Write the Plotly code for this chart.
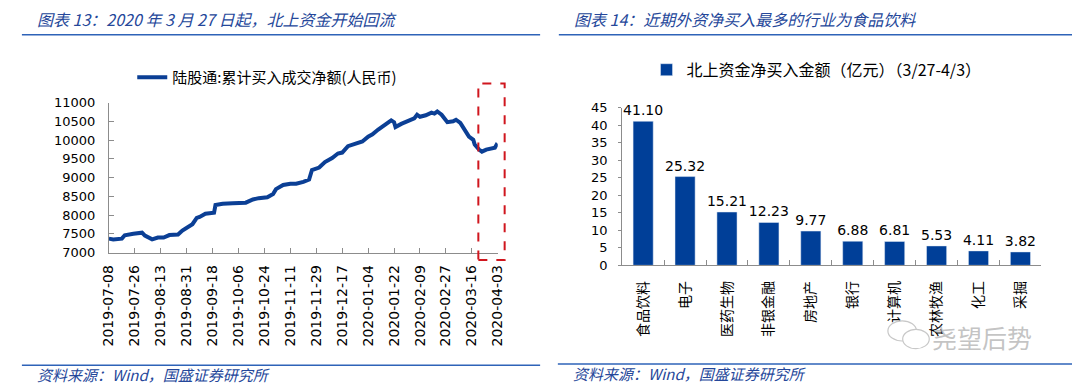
import plotly.graph_objects as go

# ---------------- data ----------------
line_dates = [
    "2019-07-08", "2019-07-11", "2019-07-17", "2019-07-19", "2019-07-25", "2019-07-31",
    "2019-08-02", "2019-08-07", "2019-08-11", "2019-08-15", "2019-08-19", "2019-08-25",
    "2019-08-28", "2019-09-01", "2019-09-04", "2019-09-07", "2019-09-09", "2019-09-13",
    "2019-09-19", "2019-09-20", "2019-09-25", "2019-10-02", "2019-10-11", "2019-10-16",
    "2019-10-20", "2019-10-26", "2019-10-30", "2019-11-01", "2019-11-06", "2019-11-11",
    "2019-11-15", "2019-11-20", "2019-11-24", "2019-11-26", "2019-12-01", "2019-12-05",
    "2019-12-10", "2019-12-14", "2019-12-17", "2019-12-21", "2019-12-25", "2019-12-31",
    "2020-01-04", "2020-01-07", "2020-01-11", "2020-01-16", "2020-01-20", "2020-01-22",
    "2020-01-23", "2020-01-27", "2020-02-02", "2020-02-05", "2020-02-07", "2020-02-09",
    "2020-02-13", "2020-02-17", "2020-02-19", "2020-02-21", "2020-02-24", "2020-02-26",
    "2020-02-28", "2020-03-03", "2020-03-05", "2020-03-08", "2020-03-10", "2020-03-12",
    "2020-03-14", "2020-03-17", "2020-03-18", "2020-03-21", "2020-03-23", "2020-03-26",
    "2020-03-30", "2020-04-01", "2020-04-02", "2020-04-03",
]
line_values = [
    7370, 7350, 7370, 7460, 7500, 7530,
    7450, 7350, 7400, 7400, 7465, 7480,
    7585, 7670, 7755, 7925, 7950, 8035,
    8060, 8265, 8300, 8315, 8330, 8415,
    8450, 8475, 8560, 8690, 8800, 8835,
    8835, 8885, 8945, 9200, 9265, 9410,
    9520, 9640, 9665, 9835, 9895, 9960,
    10090, 10150, 10280, 10405, 10525, 10475,
    10345, 10430, 10515, 10575, 10675, 10620,
    10660, 10730, 10705, 10760, 10675, 10575,
    10475, 10500, 10540, 10455, 10345, 10220,
    10090, 10005, 9880, 9745, 9690, 9745,
    9775, 9795, 9860, 9825,
]
line_name = "陆股通:累计买入成交净额(人民币)"

bar_categories = ["食品饮料", "电子", "医药生物", "非银金融", "房地产",
                  "银行", "计算机", "农林牧渔", "化工", "采掘"]
bar_values = [41.10, 25.32, 15.21, 12.23, 9.77, 6.88, 6.81, 5.53, 4.11, 3.82]
bar_name = "北上资金净买入金额（亿元）（3/27-4/3）"

title_left = "图表 13：2020 年 3 月 27 日起，北上资金开始回流"
title_right = "图表 14：近期外资净买入最多的行业为食品饮料"
source_text = "资料来源：Wind，国盛证券研究所"
watermark = "尧望后势"

# ---------------- layout helpers (screen pixel -> paper) ----------------
W, H = 1080, 391
OFF = 8  # page body margin offsets the figure by 8px
def px(x):
    return (x - OFF) / W
def py(y):
    return 1 - (y - OFF) / H

BLUE = "#0B3F95"
TITLE_BLUE = "#25479A"
RULE_BLUE = "#2E63B8"
AXIS_GREY = "#8C8C8C"
CJK = "Noto Sans CJK SC"
NUM = "DejaVu Sans"

fig = go.Figure()

fig.add_trace(go.Scatter(
    x=line_dates, y=line_values, mode="lines", name=line_name,
    line=dict(color=BLUE, width=4), xaxis="x", yaxis="y", legend="legend",
))

fig.add_trace(go.Bar(
    x=bar_categories, y=bar_values, name=bar_name,
    marker=dict(color="#003F98"), xaxis="x2", yaxis="y2", legend="legend2",
    text=[f"{v:.2f}" for v in bar_values], textposition="outside",
    constraintext="none",
    textfont=dict(family=NUM, size=14, color="#000"), cliponaxis=False,
))

DAY_MS = 86400000

fig.update_layout(
    width=W, height=H,
    margin=dict(l=0, r=0, t=0, b=0),
    paper_bgcolor="white", plot_bgcolor="white",
    bargap=0.52,
    xaxis=dict(
        domain=[px(102.3), px(497)], type="date",
        range=["2019-07-08", "2020-04-03"],
        tick0="2019-07-08", dtick=18 * DAY_MS, tickformat="%Y-%m-%d",
        tickangle=-90, ticks="inside", ticklen=5, tickcolor=AXIS_GREY,
        ticklabelstandoff=6,
        showline=True, linecolor=AXIS_GREY, linewidth=1, showgrid=False,
        zeroline=False, tickfont=dict(family=NUM, size=14, color="#000"),
        anchor="y",
    ),
    yaxis=dict(
        domain=[py(255), py(99)], range=[7000, 11000], dtick=500,
        tickformat="d",
        ticks="inside", ticklen=5, tickcolor=AXIS_GREY,
        ticklabelstandoff=10,
        showline=True, linecolor=AXIS_GREY, linewidth=1, showgrid=False,
        zeroline=False, tickfont=dict(family=NUM, size=13, color="#000"),
        anchor="x",
    ),
    xaxis2=dict(
        domain=[px(623.3), px(1048.8)], type="category",
        tickson="boundaries", ticks="inside", ticklen=5, tickcolor=AXIS_GREY,
        ticklabelstandoff=9,
        tickangle=-90, showline=True, linecolor=AXIS_GREY, linewidth=1,
        showgrid=False, zeroline=False,
        tickfont=dict(family=CJK, size=14, color="#000"), anchor="y2",
    ),
    yaxis2=dict(
        domain=[py(268.3), py(104.3)], range=[0, 45], dtick=5,
        ticks="outside", ticklen=3, tickcolor=AXIS_GREY,
        ticklabelstandoff=8,
        showline=True, linecolor=AXIS_GREY, linewidth=1, showgrid=False,
        zeroline=False, tickfont=dict(family=NUM, size=13, color="#000"),
        anchor="x2",
    ),
    legend=dict(
        x=px(126), y=py(73), xanchor="left", yanchor="middle",
        orientation="h", font=dict(family=CJK, size=15, color="#000"),
        bgcolor="rgba(0,0,0,0)",
    ),
    legend2=dict(
        x=px(648), y=py(65), xanchor="left", yanchor="middle",
        orientation="h", font=dict(family=CJK, size=16, color="#000"),
        bgcolor="rgba(0,0,0,0)",
    ),
    showlegend=True,
)

shapes = []
# title rules
shapes.append(dict(type="line", xref="paper", yref="paper",
                   x0=px(14), x1=px(540), y0=py(28.6), y1=py(28.6),
                   line=dict(color=RULE_BLUE, width=1.5)))
shapes.append(dict(type="line", xref="paper", yref="paper",
                   x0=px(559), x1=px(1080), y0=py(28.6), y1=py(28.6),
                   line=dict(color=RULE_BLUE, width=1.5)))
# footer rules
shapes.append(dict(type="line", xref="paper", yref="paper",
                   x0=px(14), x1=px(540), y0=py(372.3), y1=py(372.3),
                   line=dict(color=RULE_BLUE, width=1.5)))
shapes.append(dict(type="line", xref="paper", yref="paper",
                   x0=px(558), x1=px(1080), y0=py(371), y1=py(371),
                   line=dict(color=RULE_BLUE, width=1.5)))
# red dashed highlight box
shapes.append(dict(type="rect", xref="x domain", yref="y domain",
                   x0=(477.3 - 102.3) / 394.7, x1=(504 - 102.3) / 394.7,
                   y0=(255 - 262.7) / 156, y1=(255 - 79.3) / 156,
                   line=dict(color="#D0161E", width=2, dash="dash"),
                   fillcolor="rgba(0,0,0,0)", layer="above"))
# watermark bubbles
shapes.append(dict(type="circle", xref="paper", yref="paper",
                   x0=px(893), x1=px(922), y0=py(347), y1=py(326),
                   line=dict(color="#C8C8C8", width=1.2), fillcolor="white"))
shapes.append(dict(type="circle", xref="paper", yref="paper",
                   x0=px(908), x1=px(935), y0=py(355), y1=py(335),
                   line=dict(color="#C8C8C8", width=1.2), fillcolor="white"))

annotations = [
    dict(text=title_left, xref="paper", yref="paper", x=px(27), y=py(12.5),
         xanchor="left", yanchor="middle", showarrow=False,
         font=dict(family=CJK, size=16, color=TITLE_BLUE, style="italic")),
    dict(text=title_right, xref="paper", yref="paper", x=px(572), y=py(12.5),
         xanchor="left", yanchor="middle", showarrow=False,
         font=dict(family=CJK, size=16, color=TITLE_BLUE, style="italic")),
    dict(text=source_text, xref="paper", yref="paper", x=px(27), y=py(382),
         xanchor="left", yanchor="middle", showarrow=False,
         font=dict(family=CJK, size=15, color=TITLE_BLUE, style="italic")),
    dict(text=source_text, xref="paper", yref="paper", x=px(571), y=py(381),
         xanchor="left", yanchor="middle", showarrow=False,
         font=dict(family=CJK, size=15, color=TITLE_BLUE, style="italic")),
    dict(text=watermark, xref="paper", yref="paper", x=px(936), y=py(343),
         xanchor="left", yanchor="middle", showarrow=False,
         font=dict(family=CJK, size=25, color="rgba(170,170,170,0.7)")),
]

fig.update_layout(shapes=shapes, annotations=annotations)

fig.write_html("out.html")
